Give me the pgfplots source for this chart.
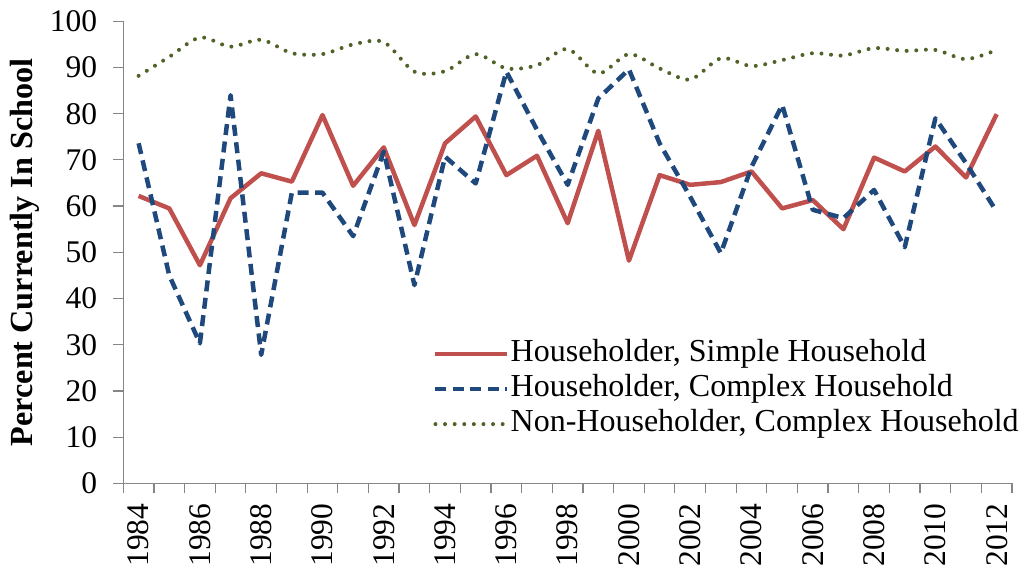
\documentclass[border=0pt]{standalone}
\usepackage{pgfplots}
\usepackage{pgfplotstable}
\pgfplotsset{compat=1.18}
\usepackage{fontspec}
\setmainfont{Liberation Serif}
\definecolor{cred}{RGB}{192,80,77}
\definecolor{cblue}{RGB}{31,73,125}
\definecolor{cgreen}{RGB}{79,98,40}
\definecolor{caxis}{RGB}{134,134,134}
\pgfplotstableread{
year S C N
1984 62.2 73.6 88.2
1985 59.5 45.0 92.3
1986 47.2 30.3 96.5
1987 61.7 84.0 94.5
1988 67.1 27.8 96.0
1989 65.3 62.9 93.1
1990 79.7 62.9 92.9
1991 64.4 53.5 95.0
1992 72.7 71.8 95.5
1993 55.9 42.9 89.1
1994 73.6 70.7 89.2
1995 79.4 64.9 92.9
1996 66.7 89.1 89.8
1997 70.9 76.5 90.5
1998 56.3 64.6 94.0
1999 76.3 83.3 88.7
2000 48.2 89.6 92.9
2001 66.7 73.6 89.8
2002 64.6 62.0 87.4
2003 65.2 49.8 92.0
2004 67.5 68.5 90.3
2005 59.5 81.9 91.6
2006 61.3 59.2 93.1
2007 55.0 57.4 92.6
2008 70.5 63.5 94.2
2009 67.5 51.1 93.6
2010 72.9 79.0 93.8
2011 66.2 69.3 91.8
2012 79.9 58.8 93.8
}\datatable
\begin{document}
\begin{tikzpicture}
\begin{axis}[
  scale only axis,
  width=888.7bp, height=462bp,
  xmin=1983.5, xmax=2012.5,
  ymin=0, ymax=100,
  axis x line=bottom, axis y line=left,
  axis line style={draw=caxis, line width=1.2bp, -},
  every tick/.style={draw=caxis, line width=1.2bp},
  tick align=outside,
  major tick length=10bp,
  xtick={1983.5,1984.5,...,2012.5},
  xticklabels={},
  extra x ticks={1984,1986,...,2012},
  extra x tick labels={1984,1986,1988,1990,1992,1994,1996,1998,2000,2002,2004,2006,2008,2010,2012},
  extra x tick style={major tick length=0bp, tick style={draw=none},
     ticklabel style={rotate=90, anchor=east, inner sep=0pt, xshift=-20bp}},
  ytick={0,10,...,100},
  yticklabel style={inner sep=0pt, xshift=-16bp},
  /pgf/number format/assume math mode=true,
  /pgf/number format/1000 sep={},
  tick label style={font=\fontsize{31.5bp}{36bp}\selectfont, text=black},
  ylabel={Percent Currently In School},
  every axis y label/.style={at={(axis description cs:0,0.5)}, rotate=90, anchor=center,
     yshift=98bp, font=\fontsize{32.2bp}{36bp}\selectfont\bfseries},
  legend style={at={(0.3485,0.312)}, anchor=north west, draw=none, fill=none,
     inner sep=0pt, row sep=5.5bp, column sep=1bp,
     font=\fontsize{32bp}{36bp}\selectfont,
     nodes={inner sep=0pt, text height=21.7bp, text depth=7.8bp, anchor=west}},
  legend cell align=left,
  legend image code/.code={\draw[#1] (0bp,0bp) -- (72bp,0bp);},
  clip=false,
]
\addplot[cred, line width=4.5bp, line join=round] table[x=year, y=S] {\datatable};
\addlegendentry{Householder, Simple Household}
\addplot[cblue, line width=4.5bp, dash pattern=on 11bp off 6.5bp, line join=round] table[x=year, y=C] {\datatable};
\addlegendentry{Householder, Complex Household}
\addplot[cgreen, line width=4bp, dash pattern=on 0bp off 9.6bp, line cap=round, smooth] table[x=year, y=N] {\datatable};
\addlegendentry{Non-Householder, Complex Household}
\coordinate (O) at (rel axis cs:0,0);
\end{axis}
\pgfresetboundingbox
\path ([shift={(-123.3bp,-88.7bp)}]O) rectangle ([shift={(901.7bp,483.3bp)}]O);
\end{tikzpicture}
\end{document}
